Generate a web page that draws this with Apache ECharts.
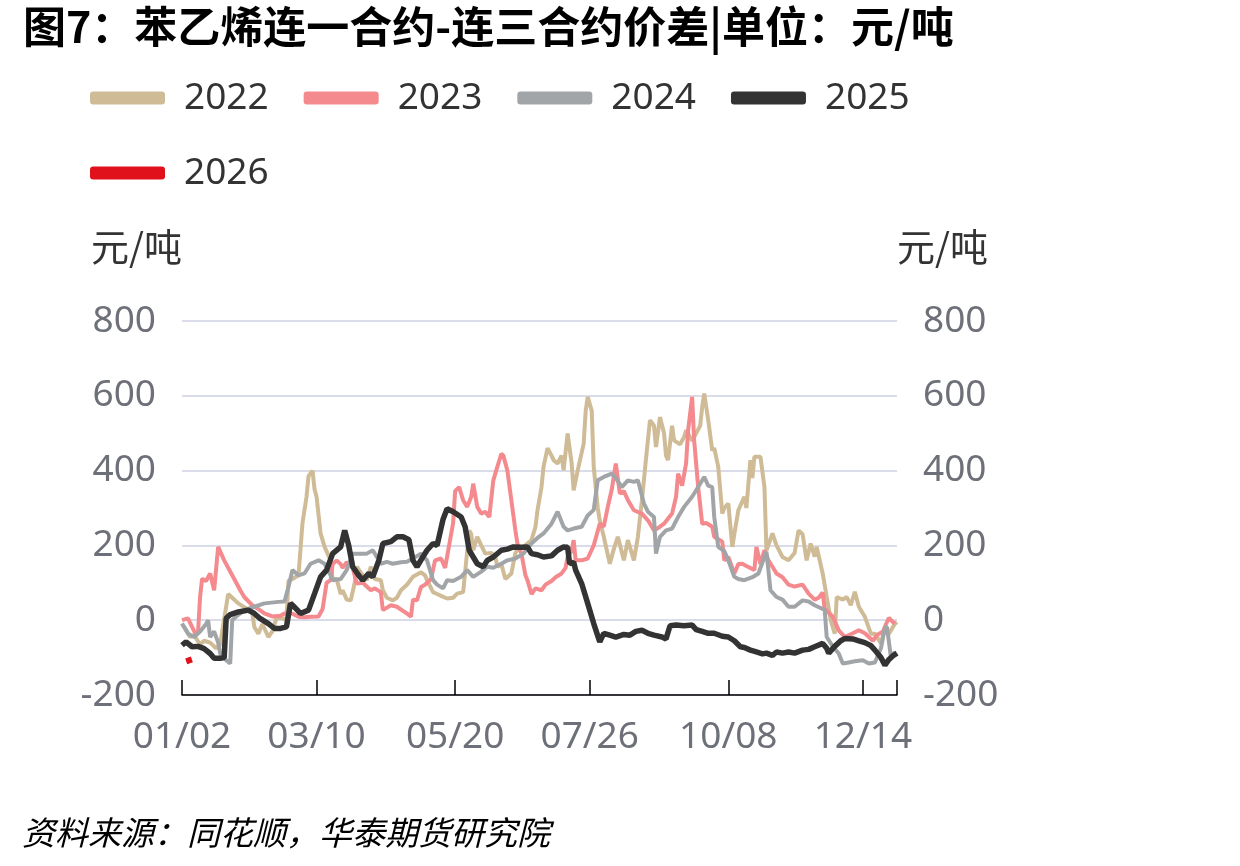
<!DOCTYPE html>
<html>
<head>
<meta charset="utf-8">
<title>苯乙烯连一合约-连三合约价差</title>
<script src="https://cdn.jsdelivr.net/npm/echarts@6/dist/echarts.min.js"></script>
<style>
  html, body { margin: 0; padding: 0; background: #fff; }
  #chart { width: 1240px; height: 866px; }
</style>
</head>
<body>
<div id="chart"></div>
<script>
// 日期轴：01/02 ~ 12/31，去掉每年固定休市的日期（五一、国庆）
const holidays = ['05/01', '05/02', '10/01', '10/02', '10/03', '10/04', '10/05']
const labelDates = ['01/02', '03/10', '05/20', '07/26', '10/08', '12/14']
const tickDates = labelDates.concat(['12/31'])
const dates = []
for (let d = new Date(2023, 0, 2); d.getFullYear() === 2023; d.setDate(d.getDate() + 1)) {
  const s = String(d.getMonth() + 1).padStart(2, '0') + '/' + String(d.getDate()).padStart(2, '0')
  if (holidays.indexOf(s) < 0) dates.push(s)
}

// [日期序号, 价差]
const s2022 = [[0,-10],[2,-25],[4,-45],[6,-40],[9,-65],[11,-55],[14,-60],[17,-75],[19,-65],[20,-30],[23,70],[25,60],[28,45],[31,35],[35,20],[36,-18],[38,-36],[40,-10],[43,-45],[45,-30],[47,5],[50,5],[52,0],[53,105],[55,110],[58,120],[60,260],[62,330],[63,385],[65,400],[66,350],[67,330],[69,232],[71,196],[74,160],[75,110],[77,110],[79,70],[80,80],[82,55],[84,53],[86,100],[87,143],[90,120],[92,107],[94,143],[96,110],[99,107],[100,80],[102,60],[105,53],[107,60],[109,80],[112,95],[115,116],[119,128],[121,120],[122,107],[125,75],[127,70],[129,65],[132,58],[135,60],[137,71],[140,75],[141,130],[143,240],[144,230],[145,187],[147,223],[149,200],[151,178],[154,180],[156,170],[157,143],[159,150],[161,110],[164,125],[166,180],[167,187],[170,196],[174,214],[176,250],[177,294],[179,356],[180,410],[182,460],[184,440],[185,428],[187,419],[189,440],[190,401],[192,499],[194,420],[195,347],[197,400],[200,472],[201,560],[202,597],[204,560],[205,410],[207,300],[208,267],[210,223],[213,151],[215,190],[217,223],[220,160],[222,214],[225,160],[227,223],[229,321],[231,430],[233,535],[235,520],[236,463],[238,543],[240,500],[241,440],[242,428],[244,520],[245,481],[248,470],[250,490],[251,508],[254,480],[256,500],[258,520],[259,570],[260,606],[262,535],[264,454],[265,460],[267,410],[269,285],[270,300],[272,312],[274,196],[275,230],[277,294],[280,330],[281,300],[283,428],[284,380],[285,437],[288,437],[290,356],[291,187],[294,232],[296,200],[299,169],[302,160],[305,180],[307,240],[309,230],[311,160],[313,205],[315,170],[316,196],[319,125],[321,62],[323,0],[325,-36],[326,62],[329,55],[331,62],[333,40],[335,76],[337,36],[340,9],[343,-36],[345,-36],[348,-62],[350,-20],[352,-36],[355,-9],[356,-5]]
const s2023 = [[0,0],[3,5],[5,-18],[7,-40],[8,-30],[9,62],[10,111],[12,105],[14,125],[16,80],[18,196],[21,160],[25,120],[29,80],[31,62],[35,40],[38,30],[41,18],[45,10],[49,12],[51,18],[54,20],[58,9],[61,8],[64,9],[68,10],[70,30],[72,100],[74,107],[75,150],[77,160],[79,150],[80,140],[82,155],[85,140],[87,98],[90,100],[94,80],[96,85],[99,75],[100,27],[104,40],[107,36],[110,25],[112,18],[114,9],[115,55],[117,53],[119,89],[121,95],[124,110],[126,160],[129,165],[131,140],[133,200],[135,260],[136,345],[138,356],[140,320],[142,303],[144,330],[145,365],[147,303],[149,285],[151,290],[153,276],[155,374],[157,410],[159,445],[160,440],[162,400],[164,320],[166,240],[167,205],[169,178],[171,120],[172,107],[174,70],[176,85],[179,80],[181,95],[184,105],[186,115],[189,125],[191,140],[192,169],[194,185],[195,214],[196,160],[199,160],[202,165],[205,200],[208,258],[210,250],[212,303],[214,350],[216,419],[218,339],[220,345],[222,321],[225,294],[229,285],[232,267],[235,240],[238,250],[240,258],[244,285],[246,330],[247,392],[249,360],[251,420],[252,508],[254,597],[255,481],[257,356],[259,258],[261,260],[264,250],[265,223],[269,210],[270,160],[272,169],[275,125],[277,150],[279,151],[281,145],[285,134],[286,196],[288,150],[290,187],[292,160],[294,143],[296,125],[299,115],[302,95],[305,90],[309,95],[312,71],[315,55],[317,60],[319,74],[320,30],[324,10],[327,-27],[330,-45],[334,-35],[337,-27],[340,-35],[342,-45],[344,-55],[346,-40],[349,-30],[351,-5],[352,6],[354,-5],[355,-9]]
const s2024 = [[0,-9],[3,-36],[6,-45],[9,-30],[12,-10],[13,0],[14,-45],[16,-30],[18,-60],[19,-89],[22,-107],[24,-116],[25,0],[27,10],[31,27],[36,36],[41,45],[48,49],[51,50],[53,89],[55,134],[58,120],[61,125],[64,151],[68,160],[71,151],[74,120],[75,107],[79,110],[82,134],[85,178],[89,178],[92,178],[95,187],[99,151],[102,156],[105,151],[109,155],[112,156],[115,165],[119,178],[122,160],[125,107],[127,95],[130,85],[132,107],[135,105],[139,116],[142,134],[145,116],[149,130],[152,143],[155,140],[159,151],[162,160],[166,165],[170,178],[174,205],[177,220],[180,232],[184,258],[187,290],[190,250],[192,240],[195,245],[199,250],[202,280],[205,295],[207,374],[210,383],[214,392],[216,380],[219,356],[222,374],[225,370],[227,374],[230,312],[232,290],[235,276],[236,178],[238,223],[241,240],[244,245],[247,276],[250,303],[254,330],[257,356],[260,383],[262,360],[264,356],[265,276],[267,196],[270,185],[272,160],[275,116],[277,110],[280,107],[284,115],[287,125],[290,169],[291,183],[293,80],[296,62],[299,55],[302,36],[305,36],[309,53],[312,50],[315,40],[319,30],[320,27],[321,-45],[324,-70],[327,-89],[329,-116],[332,-113],[335,-110],[339,-107],[342,-116],[345,-113],[348,-75],[350,-20],[351,-18],[353,-100],[355,-85]]
const s2025 = [[0,-67],[2,-58],[5,-71],[8,-70],[11,-76],[14,-89],[16,-102],[19,-102],[21,-100],[22,5],[24,15],[28,22],[33,27],[36,18],[39,4],[43,-9],[46,-22],[49,-22],[52,-18],[54,45],[56,35],[59,18],[63,27],[66,71],[69,116],[72,134],[75,178],[79,196],[81,240],[83,200],[85,143],[88,120],[90,107],[93,125],[95,116],[98,160],[100,205],[104,210],[107,223],[110,223],[113,215],[115,160],[117,143],[120,170],[122,187],[125,205],[127,200],[130,270],[132,298],[135,290],[139,276],[141,249],[143,187],[145,169],[147,151],[150,143],[152,160],[155,169],[159,187],[162,190],[165,196],[169,195],[172,196],[174,178],[177,175],[180,169],[184,172],[187,187],[190,196],[192,195],[193,151],[195,155],[196,134],[199,98],[202,45],[205,-9],[208,-58],[210,-35],[213,-40],[216,-45],[220,-38],[223,-40],[226,-30],[229,-27],[232,-35],[235,-40],[239,-45],[241,-50],[243,-15],[246,-13],[250,-15],[254,-13],[256,-25],[259,-30],[262,-35],[265,-35],[269,-43],[272,-45],[275,-55],[278,-71],[280,-73],[283,-80],[286,-85],[289,-90],[291,-88],[294,-94],[296,-85],[299,-88],[302,-85],[305,-88],[309,-80],[312,-78],[315,-71],[319,-62],[321,-75],[322,-88],[325,-70],[328,-55],[330,-49],[334,-50],[337,-55],[340,-60],[343,-68],[345,-80],[348,-100],[350,-120],[352,-105],[354,-95],[356,-88]]
const s2026 = [[3,-100],[4,-115]]

const years = ['2022', '2023', '2024', '2025', '2026']
const colors = ['#cfbb96', '#f4898e', '#a2a5a8', '#333333', '#e0111b']
const widths = [4, 4, 4, 5.5, 6]
const seriesData = [s2022, s2023, s2024, s2025, s2026]

const cjkFont = "'Noto Sans CJK SC', 'Noto Sans', sans-serif"
const numFont = "'Noto Sans', 'Noto Sans CJK SC', sans-serif"

const chart = echarts.init(document.getElementById('chart'))

const yAxisBase = {
  type: 'value',
  min: -200,
  max: 800,
  interval: 200,
  name: '元/吨',
  nameLocation: 'end',
  nameGap: 55,
  nameTextStyle: { color: '#333', fontSize: 38, fontFamily: cjkFont },
  axisLine: { show: false },
  axisTick: { show: false },
  axisLabel: { color: '#6e7079', fontSize: 37, fontFamily: numFont, margin: 26 }
}

chart.setOption({
  animation: false,
  backgroundColor: '#fff',
  title: [
    {
      text: '图7：苯乙烯连一合约-连三合约价差|单位：元/吨',
      left: 18,
      top: 0,
      textStyle: { color: '#000', fontSize: 43, fontWeight: 'bold', fontFamily: cjkFont }
    },
    {
      text: '资料来源：同花顺，华泰期货研究院',
      left: 17,
      top: 811,
      textStyle: { color: '#000', fontSize: 33, fontWeight: 'normal', fontStyle: 'italic', fontFamily: cjkFont }
    }
  ],
  legend: {
    data: years,
    left: 90,
    top: 78,
    width: 840,
    padding: 0,
    icon: 'roundRect',
    itemWidth: 75,
    itemHeight: 13,
    itemGap: 35,
    textStyle: { color: '#333', fontSize: 37, fontFamily: numFont, lineHeight: 40, padding: [0, 0, 0, 14] }
  },
  grid: { left: 182, right: 343, top: 321, bottom: 171 },
  xAxis: {
    type: 'category',
    data: dates,
    boundaryGap: false,
    axisLine: { onZero: false, lineStyle: { color: '#000', width: 1.5 } },
    axisTick: {
      inside: true,
      length: 15,
      interval: (i, v) => tickDates.indexOf(v) >= 0,
      lineStyle: { color: '#000', width: 1.5 }
    },
    axisLabel: {
      interval: (i, v) => labelDates.indexOf(v) >= 0,
      color: '#6e7079',
      fontSize: 37,
      fontFamily: numFont,
      margin: 24
    },
    splitLine: { show: false }
  },
  yAxis: [
    Object.assign({}, yAxisBase, {
      position: 'left',
      nameTextStyle: Object.assign({}, yAxisBase.nameTextStyle, { align: 'right' }),
      splitLine: { lineStyle: { color: '#dadde9', width: 2 } }
    }),
    Object.assign({}, yAxisBase, {
      position: 'right',
      nameTextStyle: Object.assign({}, yAxisBase.nameTextStyle, { align: 'left' }),
      splitLine: { show: false }
    })
  ],
  series: years.map((y, i) => ({
    name: y,
    type: 'line',
    yAxisIndex: 0,
    data: seriesData[i],
    showSymbol: false,
    symbol: 'none',
    color: colors[i],
    lineStyle: { color: colors[i], width: widths[i] }
  }))
})
</script>
</body>
</html>
